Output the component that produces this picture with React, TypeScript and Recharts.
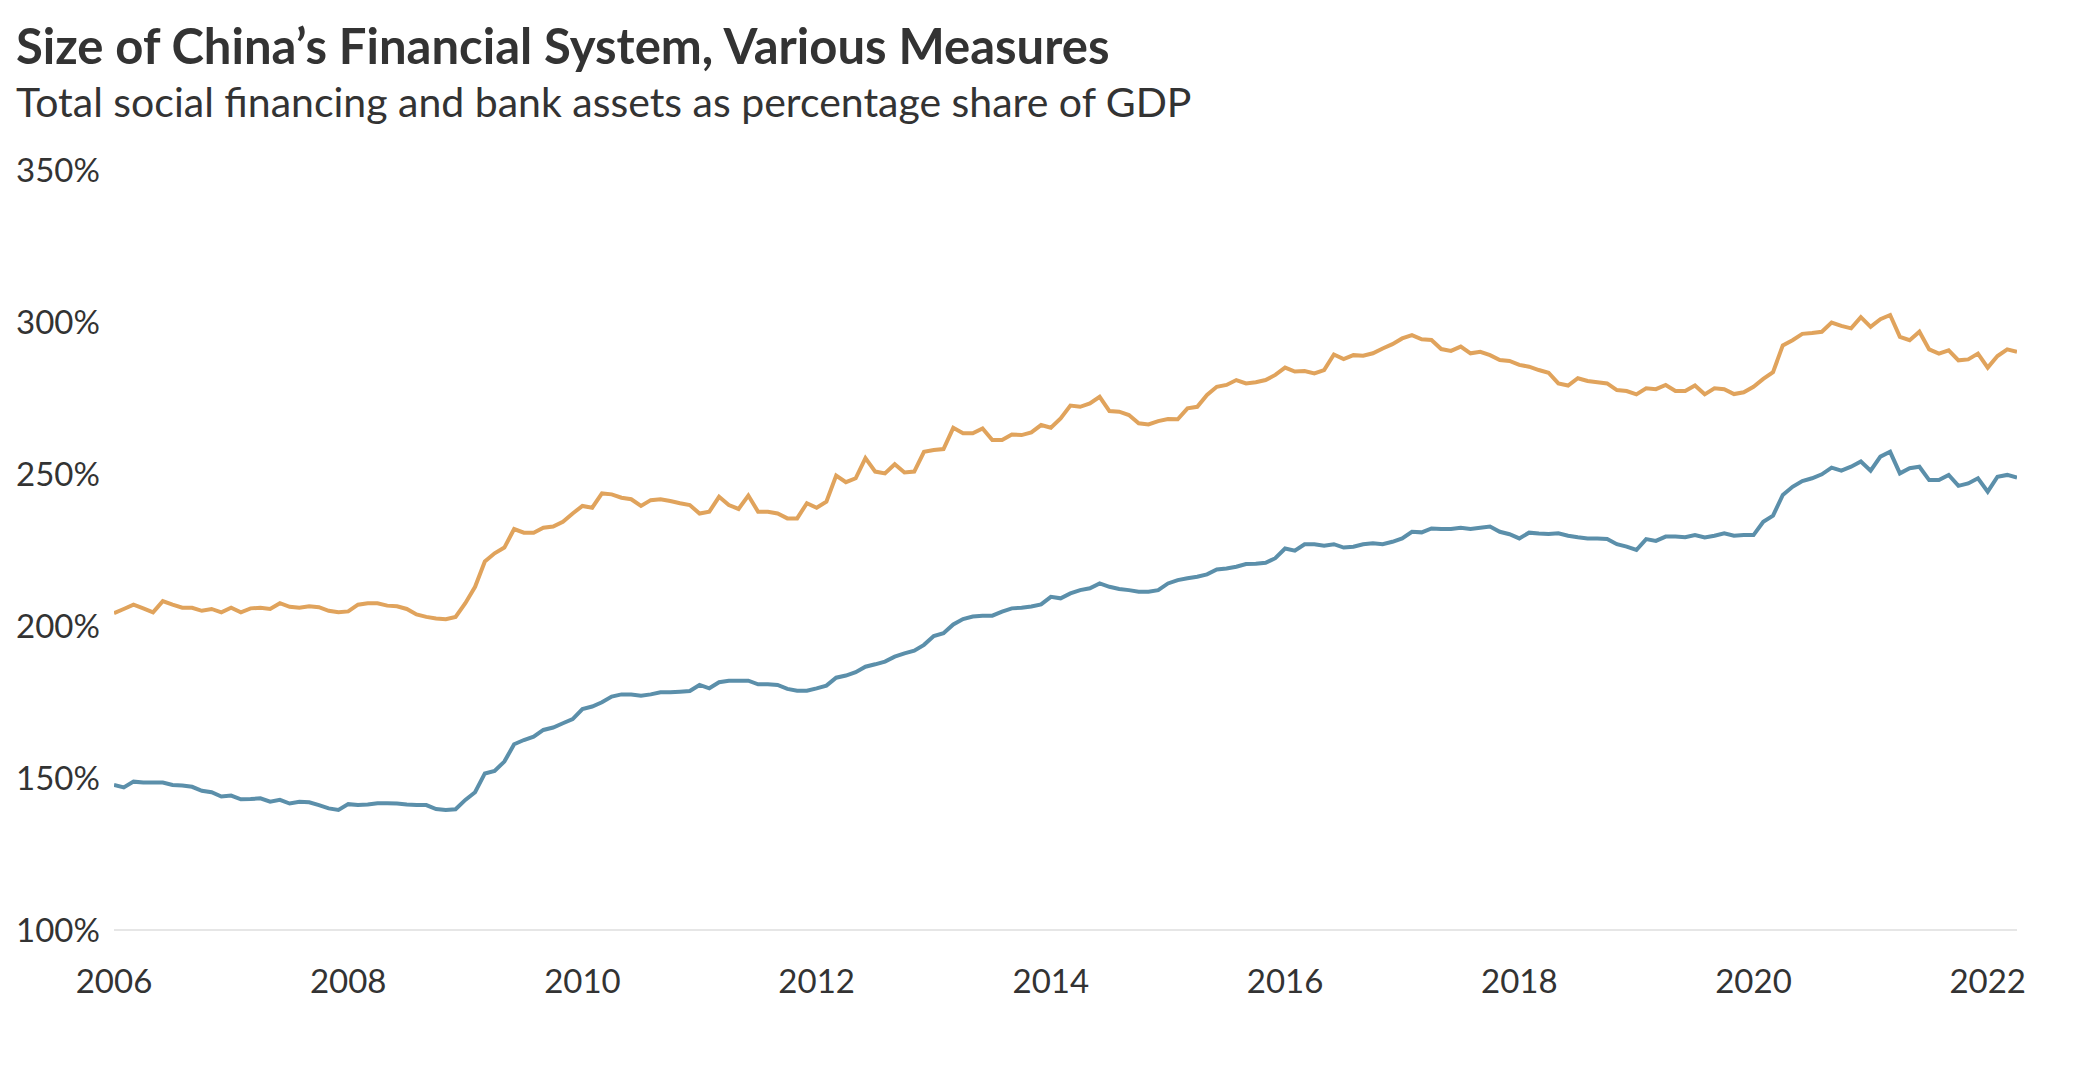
import React from 'react';
import { LineChart, Line, XAxis, YAxis } from 'recharts';

const START_YEAR = 2006;

// Monthly values, Jan 2006 – Apr 2022 (% of GDP)
const bankAssets: number[] = [
  204.2, 205.6, 207, 205.8, 204.5, 208.2, 207, 206, 206, 205, 205.6, 204.5,
  206, 204.5, 205.8, 206, 205.6, 207.5, 206.3, 206, 206.5, 206.2, 205, 204.5,
  204.8, 207, 207.5, 207.5, 206.7, 206.5, 205.6, 203.8, 203, 202.5,
  202.2, 203, 207.5, 212.9, 221.2, 223.9, 225.8, 231.9, 230.7, 230.7, 232.3, 232.7,
  234.3, 237, 239.5, 238.9, 243.6, 243.3, 242.2, 241.7, 239.5, 241.4, 241.7, 241.1,
  240.4, 239.8, 237, 237.6, 242.5, 239.8, 238.5, 242.9, 237.6, 237.6,
  237, 235.4, 235.4, 240.4, 238.9, 240.9, 249.5, 247.3, 248.6, 255.2, 250.8, 250.2,
  253.2, 250.5, 250.8, 257.3, 257.9, 258.2, 265.2, 263.4, 263.4, 265, 261.2, 261.2,
  263, 262.8, 263.7, 266.1, 265.2, 268.3, 272.5, 272.1, 273.2, 275.4,
  270.7, 270.5, 269.4, 266.7, 266.3, 267.4, 268.1, 268, 271.6, 272.1, 276, 278.7,
  279.3, 280.9, 279.8, 280.2, 280.9, 282.6, 285, 283.7, 283.9, 283.1, 284.2, 289.3,
  287.8, 289.1, 288.9, 289.7, 291.3, 292.7, 294.6, 295.7, 294.3, 294.1,
  291.1, 290.5, 291.9, 289.7, 290.2, 289.1, 287.5, 287.2, 285.9, 285.3, 284.2, 283.3,
  279.8, 279.1, 281.5, 280.6, 280.2, 279.8, 277.6, 277.3, 276.2, 278.2, 277.9, 279.3,
  277.3, 277.3, 279.1, 276.2, 278.2, 277.9, 276.3, 276.9, 278.7,
  281.3, 283.5, 292.3, 294, 296.1, 296.4, 296.8, 299.8, 298.7, 297.9, 301.6, 298.4,
  300.9, 302.3, 295.1, 294, 296.8, 291, 289.6, 290.7, 287.4, 287.7, 289.6, 285,
  288.8, 291, 290.2,
];

const socialFinancing: number[] = [
  147.7, 146.9, 148.8, 148.5, 148.5, 148.5, 147.7, 147.5, 147.1, 145.8, 145.3, 143.9,
  144.2, 143, 143.1, 143.3, 142.2, 142.8, 141.6, 142.2, 142, 141.1, 140, 139.5,
  141.4, 141.1, 141.3, 141.7, 141.7, 141.6, 141.3, 141.1, 141.1, 139.8,
  139.5, 139.7, 142.8, 145.3, 151.5, 152.3, 155.4, 161.1, 162.5, 163.6, 165.8, 166.6,
  168, 169.4, 172.7, 173.5, 174.9, 176.8, 177.5, 177.5, 177.1, 177.5, 178.2, 178.2,
  178.4, 178.6, 180.6, 179.5, 181.5, 182, 182, 182, 180.8, 180.8,
  180.6, 179.3, 178.7, 178.7, 179.5, 180.4, 183, 183.7, 184.8, 186.6, 187.4, 188.3,
  189.9, 191, 191.9, 193.8, 196.7, 197.6, 200.5, 202.3, 203.1, 203.4, 203.4, 204.7,
  205.8, 206, 206.4, 207.1, 209.6, 209.1, 210.7, 211.8, 212.4, 214,
  212.9, 212.2, 211.8, 211.3, 211.3, 211.8, 214, 215.1, 215.7, 216.2, 217, 218.6,
  218.9, 219.5, 220.4, 220.5, 220.8, 222.3, 225.5, 224.8, 226.9, 226.9, 226.4, 226.9,
  225.8, 226.1, 226.9, 227.2, 226.9, 227.7, 228.8, 231, 230.8, 232.1,
  231.9, 231.9, 232.3, 231.9, 232.3, 232.7, 231, 230.2, 228.8, 230.7, 230.4, 230.3,
  230.5, 229.7, 229.2, 228.8, 228.8, 228.6, 226.9, 226.1, 225, 228.6, 228, 229.4,
  229.4, 229.2, 229.9, 229.1, 229.7, 230.5, 229.7, 229.9, 229.9,
  234.3, 236.3, 243.1, 245.8, 247.7, 248.6, 249.9, 252.1, 251.1, 252.4, 254.1, 251.1,
  255.7, 257.3, 250.2, 251.9, 252.4, 248, 248, 249.7, 246.1, 246.9, 248.6, 244.2,
  249.1, 249.7, 248.8,
];

const yTicks = [100, 150, 200, 250, 300, 350];
const xTicks = [2006, 2008, 2010, 2012, 2014, 2016, 2018, 2020, 2022];

const TITLE = 'Size of China\u2019s Financial System, Various Measures';
const SUBTITLE = 'Total social financing and bank assets as percentage share of GDP';

const data = bankAssets.map((v, i) => ({
  t: START_YEAR + i / 12,
  bank: v,
  tsf: socialFinancing[i],
}));

const FONT = 'Lato, "Noto Sans", sans-serif';
const TEXT = '#333333';

const YTick = (props: any) => {
  const { y, payload } = props;
  return (
    <text x={16} y={y} dy="0.36em" fontSize={33} fill={TEXT} fontFamily={FONT} textAnchor="start">
      {payload.value}%
    </text>
  );
};

const XTick = (props: any) => {
  const { x, y, payload } = props;
  return (
    <text x={x} y={y + 63} fontSize={33} fill={TEXT} fontFamily={FONT} textAnchor="middle">
      {payload.value}
    </text>
  );
};

export default function App() {
  return (
    <div style={{ position: 'absolute', left: 0, top: 0, width: 2077, height: 1081, background: '#fff' }}>
      <svg width={2077} height={140} style={{ position: 'absolute', left: 0, top: 0 }}>
        <text x={16} y={64} fontSize={49} fontWeight={700} fill={TEXT} fontFamily={FONT}>{TITLE}</text>
        <text x={16} y={117} fontSize={41} fill={TEXT} fontFamily={FONT}>{SUBTITLE}</text>
      </svg>
      <div style={{ position: 'absolute', left: 0, top: 0 }}>
        <LineChart
          width={2077}
          height={1081}
          data={data}
          margin={{ top: 170, right: 60, bottom: 91, left: 0 }}
        >
          <XAxis
            dataKey="t"
            type="number"
            domain={[START_YEAR, START_YEAR + (bankAssets.length - 1) / 12]}
            ticks={xTicks}
            tick={<XTick />}
            tickLine={false}
            tickSize={0}
            tickMargin={0}
            height={60}
            axisLine={{ stroke: '#e6e6e6', strokeWidth: 2 }}
            interval={0}
            allowDataOverflow
          />
          <YAxis
            domain={[100, 350]}
            ticks={yTicks}
            tick={<YTick />}
            axisLine={false}
            tickLine={false}
            width={114}
            interval={0}
          />
          <Line
            type="linear"
            dataKey="bank"
            stroke="#E0A35C"
            strokeWidth={4}
            dot={false}
            isAnimationActive={false}
          />
          <Line
            type="linear"
            dataKey="tsf"
            stroke="#5B8FAA"
            strokeWidth={4}
            dot={false}
            isAnimationActive={false}
          />
        </LineChart>
      </div>
    </div>
  );
}
